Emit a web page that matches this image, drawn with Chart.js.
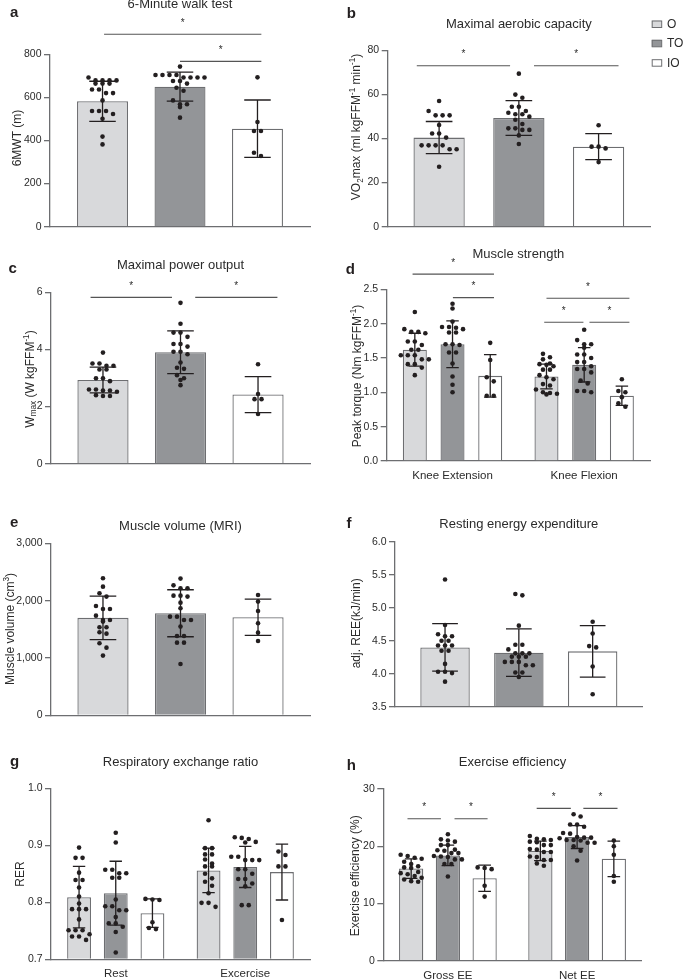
<!DOCTYPE html>
<html><head><meta charset="utf-8">
<script src="https://cdn.jsdelivr.net/npm/chart.js@4.4.0/dist/chart.umd.min.js"></script>
<style>
html,body{margin:0;padding:0;background:#fff;width:685px;height:979px;overflow:hidden;position:relative;font-family:"Liberation Sans",Arial,sans-serif;}
canvas{position:absolute;}
.lbl{position:absolute;font-weight:bold;font-size:15px;line-height:15px;color:#231f20;}
</style></head><body>
<script>
// ---------- data ----------
const groupLabels = ['O', 'TO', 'IO'];

// a: 6-minute walk test (m)
const walkMean = [582, 650, 455];
const walkSD = [93, 67, 133];
const walkO = [692, 679, 679, 679, 679, 664, 664, 664, 637, 637, 620, 620, 586, 537, 537, 537, 523, 501, 418, 382];
const walkTO = [743, 704, 704, 704, 704, 692, 692, 692, 692, 676, 676, 664, 645, 631, 586, 568, 568, 555, 506];
const walkIO = [693, 486, 444, 444, 343, 328];
const walkSig = [[0, 0.02, 2.05, 893], [0, 1.0, 2.05, 767]];

// b: VO2max (ml kgFFM-1 min-1)
const vo2Mean = [40.4, 49.3, 36.3];
const vo2SD = [7.3, 7.9, 5.9];
const vo2O = [57.0, 52.5, 50.5, 50.5, 50.5, 46.1, 42.3, 42.3, 40.4, 36.9, 36.9, 36.9, 36.9, 35.1, 35.1, 27.2];
const vo2TO = [69.4, 59.9, 58.5, 54.4, 54.4, 52.5, 51.7, 51.0, 51.0, 49.9, 48.5, 46.6, 44.6, 44.6, 43.9, 43.9, 41.4, 37.5];
const vo2IO = [46.0, 36.3, 36.3, 35.5, 29.3];
const vo2Sig = [[0, -0.28, 0.89, 73], [0, 1.19, 2.25, 73]];

// c: Wmax (W kgFFM-1)
const wmaxMean = [2.93, 3.90, 2.42];
const wmaxSD = [0.45, 0.75, 0.63];
const wmaxO = [3.89, 3.51, 3.51, 3.43, 3.43, 3.30, 3.30, 2.99, 2.99, 2.89, 2.60, 2.60, 2.56, 2.56, 2.52, 2.40, 2.37, 2.37];
const wmaxTO = [5.63, 4.90, 4.59, 4.59, 4.44, 4.19, 4.19, 4.10, 3.92, 3.92, 3.83, 3.54, 3.36, 3.32, 3.10, 2.99, 2.93, 2.75];
const wmaxIO = [3.48, 2.44, 2.26, 2.26, 1.74];
const wmaxSig = [[0, -0.16, 0.89, 5.82], [0, 1.19, 2.25, 5.82]];

// d: muscle strength, peak torque (Nm kgFFM-1)
const strengthCats = ['Knee Extension', 'Knee Flexion'];
const extMean = [1.62, 1.70, 1.24];
const extSD = [0.24, 0.34, 0.31];
const flexMean = [1.23, 1.40, 0.95];
const flexSD = [0.18, 0.25, 0.14];
const extO = [2.17, 1.92, 1.88, 1.88, 1.86, 1.74, 1.74, 1.69, 1.62, 1.62, 1.54, 1.54, 1.54, 1.48, 1.48, 1.41, 1.41, 1.36, 1.25];
const extTO = [2.29, 2.22, 2.03, 1.95, 1.95, 1.94, 1.92, 1.87, 1.87, 1.70, 1.70, 1.69, 1.58, 1.58, 1.42, 1.23, 1.11, 1.00];
const extIO = [1.72, 1.47, 1.22, 1.16, 0.95, 0.95];
const flexO = [1.56, 1.51, 1.48, 1.42, 1.41, 1.40, 1.38, 1.33, 1.33, 1.25, 1.22, 1.19, 1.12, 1.10, 1.04, 1.00, 0.99, 0.98, 0.97];
const flexTO = [1.91, 1.76, 1.70, 1.70, 1.65, 1.55, 1.55, 1.50, 1.44, 1.44, 1.38, 1.34, 1.34, 1.29, 1.17, 1.13, 1.02, 1.02, 1.00];
const flexIO = [1.19, 1.02, 1.00, 0.93, 0.84, 0.79];
const strengthSig = [[0, -0.06, 2.1, 2.72], [0, 1.01, 2.1, 2.38], [1, 0, 2.2, 2.37], [1, -0.06, 0.98, 2.02], [1, 1.14, 2.2, 2.02]];

// e: muscle volume (cm3)
const volMean = [1700, 1780, 1710];
const volSD = [380, 410, 315];
const volO = [2390, 2244, 2128, 2070, 1907, 1855, 1855, 1738, 1663, 1663, 1634, 1535, 1535, 1448, 1424, 1256, 1180, 1041];
const volTO = [2384, 2267, 2215, 2215, 2087, 2087, 2070, 1965, 1866, 1721, 1721, 1663, 1663, 1547, 1384, 1384, 1267, 1267, 895];
const volIO = [2099, 1983, 1820, 1605, 1442, 1297];

// f: resting energy expenditure (kJ/min)
const reeMean = [4.40, 4.32, 4.34];
const reeSD = [0.36, 0.36, 0.39];
const reeO = [5.43, 4.74, 4.60, 4.57, 4.57, 4.50, 4.50, 4.43, 4.43, 4.43, 4.35, 4.35, 4.15, 4.03, 4.03, 4.01, 3.88];
const reeTO = [5.21, 5.19, 4.73, 4.44, 4.44, 4.37, 4.31, 4.31, 4.31, 4.26, 4.26, 4.26, 4.18, 4.18, 4.18, 4.13, 4.13, 4.02, 4.02, 3.95];
const reeIO = [4.79, 4.61, 4.42, 4.40, 4.11, 3.69];

// g: respiratory exchange ratio
const rerCats = ['Rest', 'Excercise'];
const restMean = [0.809, 0.816, 0.781];
const restSD = [0.054, 0.056, 0.025];
const exMean = [0.856, 0.862, 0.853];
const exSD = [0.039, 0.036, 0.049];
const restO = [0.896, 0.878, 0.878, 0.852, 0.839, 0.839, 0.826, 0.810, 0.798, 0.788, 0.788, 0.788, 0.770, 0.751, 0.751, 0.751, 0.744, 0.740, 0.740, 0.734];
const restTO = [0.922, 0.905, 0.857, 0.857, 0.851, 0.851, 0.843, 0.843, 0.805, 0.793, 0.793, 0.786, 0.786, 0.774, 0.763, 0.763, 0.757, 0.748, 0.712];
const restIO = [0.806, 0.805, 0.804, 0.765, 0.755, 0.753];
const exO = [0.944, 0.895, 0.895, 0.884, 0.884, 0.875, 0.868, 0.863, 0.863, 0.850, 0.842, 0.836, 0.829, 0.816, 0.799, 0.799, 0.792];
const exTO = [0.914, 0.913, 0.911, 0.906, 0.905, 0.880, 0.880, 0.874, 0.874, 0.874, 0.858, 0.858, 0.850, 0.841, 0.841, 0.833, 0.828, 0.795, 0.795];
const exIO = [0.889, 0.883, 0.863, 0.863, 0.769];

// h: exercise efficiency (%)
const effCats = ['Gross EE', 'Net EE'];
const grossMean = [16.1, 18.4, 14.4];
const grossSD = [1.7, 1.8, 2.3];
const netMean = [19.2, 21.6, 17.8];
const netSD = [1.7, 2.0, 3.1];
const grossO = [18.5, 18.3, 18.0, 17.8, 17.3, 16.9, 16.5, 16.3, 16.2, 15.5, 15.3, 15.1, 14.8, 14.5, 14.2, 13.9, 13.8];
const grossTO = [22.1, 21.2, 21.0, 20.8, 20.2, 20.2, 19.4, 19.3, 19.2, 18.8, 18.8, 18.3, 18.2, 18.1, 17.7, 17.7, 16.9, 16.9, 14.7];
const grossIO = [16.3, 16.2, 16.0, 13.1, 11.2];
const netO = [21.8, 21.3, 21.2, 21.1, 20.8, 20.7, 20.2, 20.2, 19.5, 19.4, 19.0, 19.0, 18.2, 18.1, 17.6, 17.6, 17.0, 16.6];
const netTO = [25.6, 25.2, 23.8, 23.8, 23.4, 22.3, 22.2, 21.6, 21.5, 21.5, 21.4, 21.1, 21.1, 21.0, 20.6, 20.6, 20.0, 19.2, 17.5];
const netIO = [21.0, 20.0, 18.5, 14.8, 13.8];
const effSig = [[0, -0.1, 0.81, 24.8], [0, 1.18, 2.08, 24.8], [1, -0.1, 0.83, 26.6], [1, 1.17, 2.1, 26.6]];

// ---------- style ----------
const FAMILY = '"Liberation Sans", Arial, Helvetica, sans-serif';
const fills = ['#d8d9db', '#939598', '#ffffff'];
const edge = '#6d6e71';
const axisColor = '#6d6e71';
const ink = '#231f20';
const textColor = '#2b2b2b';
Chart.defaults.font.family = FAMILY;

// ---------- panels ----------
const panels = [
  {key: 'a', x: 0, y: -10, w: 340, h: 250, area: [50, 54.3, 310, 226.7], titleY: 4.5,
   title: '6-Minute walk test', cats: [''], means: [walkMean], sds: [walkSD], pts: [[walkO, walkTO, walkIO]],
   sig: walkSig, min: 0, max: 800, step: 200, fmt: v => String(v), cat: 0.894, bar: 0.658,
   ytitle: [['6MWT (m)', '']], yt: [16.7, 138]},
  {key: 'b', x: 340, y: -10, w: 345, h: 250, area: [387.7, 50.3, 650, 226.7], titleY: 24.7,
   title: 'Maximal aerobic capacity', cats: [''], means: [vo2Mean], sds: [vo2SD], pts: [[vo2O, vo2TO, vo2IO]],
   sig: vo2Sig, min: 0, max: 80, step: 20, fmt: v => String(v), cat: 0.912, bar: 0.643,
   ytitle: [['VO', ''], ['2', 'sub'], ['max (ml kgFFM', ''], ['-1', 'sup'], [' min', ''], ['-1', 'sup'], [')', '']],
   yt: [356, 127], legend: true},
  {key: 'c', x: 0, y: 238, w: 340, h: 247, area: [51, 292.3, 310, 463.7], titleY: 265.7,
   title: 'Maximal power output', cats: [''], means: [wmaxMean], sds: [wmaxSD], pts: [[wmaxO, wmaxTO, wmaxIO]],
   sig: wmaxSig, min: 0, max: 6, step: 2, fmt: v => String(v), cat: 0.898, bar: 0.66,
   ytitle: [['W', ''], ['max', 'sub'], [' (W kgFFM', ''], ['-1', 'sup'], [')', '']], yt: [29.5, 379]},
  {key: 'd', x: 340, y: 238, w: 345, h: 247, area: [386.7, 289.3, 650, 461], titleY: 254,
   title: 'Muscle strength', cats: strengthCats, means: [extMean, flexMean], sds: [extSD, flexSD],
   pts: [[extO, extTO, extIO], [flexO, flexTO, flexIO]], sig: strengthSig,
   min: 0, max: 2.5, step: 0.5, fmt: v => v.toFixed(1), cat: 0.859, bar: 0.637,
   ytitle: [['Peak torque (Nm kgFFM', ''], ['-1', 'sup'], [')', '']], yt: [356.7, 376], showX: true},
  {key: 'e', x: 0, y: 478, w: 340, h: 250, area: [51, 543.3, 310, 715.3], titleY: 526,
   title: 'Muscle volume (MRI)', cats: [''], means: [volMean], sds: [volSD], pts: [[volO, volTO, volIO]],
   sig: [], min: 0, max: 3000, step: 1000, fmt: v => v.toLocaleString('en-US'), cat: 0.898, bar: 0.66,
   ytitle: [['Muscle volume (cm', ''], ['3', 'sup'], [')', '']], yt: [10, 629]},
  {key: 'f', x: 340, y: 478, w: 345, h: 250, area: [395, 542, 642.7, 706.7], titleY: 524,
   title: 'Resting energy expenditure', cats: [''], means: [reeMean], sds: [reeSD], pts: [[reeO, reeTO, reeIO]],
   sig: [], min: 3.5, max: 6.0, step: 0.5, fmt: v => v.toFixed(1), cat: 0.894, bar: 0.67,
   ytitle: [['adj. REE(kJ/min)', '']], yt: [355.7, 623.3]},
  {key: 'g', x: 0, y: 718, w: 340, h: 261, area: [51, 788.3, 310, 959.3], titleY: 762,
   title: 'Respiratory exchange ratio', cats: rerCats, means: [restMean, exMean], sds: [restSD, exSD],
   pts: [[restO, restTO, restIO], [exO, exTO, exIO]], sig: [],
   min: 0.7, max: 1.0, step: 0.1, fmt: v => v.toFixed(1), cat: 0.85, bar: 0.65,
   ytitle: [['RER', '']], yt: [19.3, 874], showX: true},
  {key: 'h', x: 340, y: 718, w: 345, h: 261, area: [383.3, 789, 641.7, 960.7], titleY: 762.5,
   title: 'Exercise efficiency', cats: effCats, means: [grossMean, netMean], sds: [grossSD, netSD],
   pts: [[grossO, grossTO, grossIO], [netO, netTO, netIO]], sig: effSig,
   min: 0, max: 30, step: 10, fmt: v => String(v), cat: 0.853, bar: 0.66,
   ytitle: [['Exercise efficiency (%)', '']], yt: [355, 875.8], showX: true}
];

const letters = [['a', 10, 16.7], ['b', 346.7, 17.3], ['c', 8.5, 272.3], ['d', 345.7, 273.3],
                 ['e', 10, 526.7], ['f', 346.5, 527.7], ['g', 10, 766], ['h', 346.7, 770]];

// ---------- helpers ----------
function swarm(values, cx, yScale, step, rowGap) {
  const sorted = values.slice().sort((a, b) => b - a);
  const rows = [];
  let cur = null;
  for (const v of sorted) {
    const py = yScale.getPixelForValue(v);
    if (!cur || py - cur.start >= rowGap) { cur = {start: py, items: []}; rows.push(cur); }
    cur.items.push(py);
  }
  const out = [];
  rows.forEach(r => {
    const n = r.items.length;
    r.items.forEach((py, k) => out.push([cx + (k - (n - 1) / 2) * step, py]));
  });
  return out;
}

function drawRich(ctx, segs, cx, cy, size) {
  ctx.save();
  ctx.translate(cx, cy);
  ctx.rotate(-Math.PI / 2);
  const small = size * 0.68;
  const widths = segs.map(([t, k]) => { ctx.font = (k ? small : size) + 'px ' + FAMILY; return ctx.measureText(t).width; });
  const total = widths.reduce((a, b) => a + b, 0);
  let x = -total / 2;
  ctx.fillStyle = textColor;
  ctx.textBaseline = 'alphabetic';
  ctx.textAlign = 'left';
  const base = size * 0.35;
  segs.forEach(([t, k], i) => {
    ctx.font = (k ? small : size) + 'px ' + FAMILY;
    const off = k === 'sub' ? size * 0.22 : (k === 'sup' ? -size * 0.42 : 0);
    ctx.fillText(t, x, base + off);
    x += widths[i];
  });
  ctx.restore();
}

function makeOverlay(p) {
  return {
    id: 'overlay_' + p.key,
    afterDatasetsDraw(chart) {
      const ctx = chart.ctx, ys = chart.scales.y;
      ctx.save();
      // error bars (mean ± SD)
      for (let i = 0; i < 3; i++) {
        const meta = chart.getDatasetMeta(i);
        meta.data.forEach((el, c) => {
          const m = p.means[c][i], sd = p.sds[c][i];
          const x = el.x, cap = el.width * 0.26;
          const yTop = ys.getPixelForValue(m + sd), yBot = ys.getPixelForValue(m - sd);
          ctx.strokeStyle = ink; ctx.lineWidth = 1.3;
          ctx.beginPath();
          ctx.moveTo(x, yTop); ctx.lineTo(x, yBot);
          ctx.moveTo(x - cap, yTop); ctx.lineTo(x + cap, yTop);
          ctx.moveTo(x - cap, yBot); ctx.lineTo(x + cap, yBot);
          ctx.stroke();
        });
      }
      // individual points
      ctx.fillStyle = ink;
      for (let i = 0; i < 3; i++) {
        const meta = chart.getDatasetMeta(i);
        meta.data.forEach((el, c) => {
          swarm(p.pts[c][i], el.x, ys, 7, 4.6).forEach(([px, py]) => {
            ctx.beginPath(); ctx.arc(px, py, 2.3, 0, Math.PI * 2); ctx.fill();
          });
        });
      }
      // significance brackets
      p.sig.forEach(([c, f, t, lvl]) => {
        const xs = [0, 1, 2].map(i => chart.getDatasetMeta(i).data[c].x);
        const sp = xs[1] - xs[0];
        const x1 = xs[0] + f * sp, x2 = xs[0] + t * sp;
        const py = ys.getPixelForValue(lvl);
        ctx.strokeStyle = '#555555'; ctx.lineWidth = 1.2;
        ctx.beginPath(); ctx.moveTo(x1, py); ctx.lineTo(x2, py); ctx.stroke();
        ctx.fillStyle = textColor;
        ctx.font = '10px ' + FAMILY;
        ctx.textAlign = 'center'; ctx.textBaseline = 'alphabetic';
        ctx.fillText('*', (x1 + x2) / 2, py - 8.5);
      });
      ctx.restore();
    },
    afterDraw(chart) {
      const ctx = chart.ctx;
      drawRich(ctx, p.ytitle, p.yt[0] - p.x, p.yt[1] - p.y, 12);
      if (p.legend) {
        ctx.save();
        const rows = [24, 43.3, 62.7];
        chart.data.datasets.forEach((ds, i) => {
          const cy = rows[i] - p.y;
          ctx.fillStyle = ds.backgroundColor;
          ctx.fillRect(651.7 - p.x, cy - 3.5, 10, 7);
          ctx.strokeStyle = edge; ctx.lineWidth = 1;
          ctx.strokeRect(651.7 - p.x + 0.5, cy - 3.5 + 0.5, 9.5, 6.5);
          ctx.fillStyle = textColor;
          ctx.font = '12px ' + FAMILY;
          ctx.textAlign = 'left'; ctx.textBaseline = 'middle';
          ctx.fillText(ds.label, 667 - p.x, cy + 0.5);
        });
        ctx.restore();
      }
    }
  };
}

function buildPanel(p) {
  const cv = document.createElement('canvas');
  cv.width = p.w; cv.height = p.h;
  cv.style.left = p.x + 'px'; cv.style.top = p.y + 'px';
  cv.style.width = p.w + 'px'; cv.style.height = p.h + 'px';
  document.body.appendChild(cv);
  const [L, T, R, B] = p.area;
  const xAxisH = p.h - (B - p.y);
  const datasets = groupLabels.map((g, i) => ({
    label: g,
    data: p.means.map(m => m[i]),
    backgroundColor: fills[i],
    borderColor: edge,
    borderWidth: 1.3,
    categoryPercentage: p.cat,
    barPercentage: p.bar,
    base: p.min
  }));
  new Chart(cv, {
    type: 'bar',
    data: {labels: p.cats, datasets},
    options: {
      responsive: false, animation: false, devicePixelRatio: 1,
      events: [],
      layout: {padding: {left: 0, right: p.w - (R - p.x), top: 0, bottom: 0}},
      plugins: {
        legend: {display: false},
        tooltip: {enabled: false},
        title: {
          display: true, text: p.title, fullSize: false, color: textColor,
          font: {family: FAMILY, size: 13, weight: 'normal'},
          padding: {top: p.titleY - 7.8 - p.y, bottom: T - p.titleY - 7.8}
        }
      },
      scales: {
        x: {
          type: 'category', offset: true,
          grid: {display: false},
          border: {display: true, color: axisColor, width: 1.3},
          ticks: {display: !!p.showX, color: textColor, font: {family: FAMILY, size: 11.5}, padding: 0, maxRotation: 0, autoSkip: false},
          afterFit: s => { s.height = xAxisH; }
        },
        y: {
          min: p.min, max: p.max,
          border: {display: true, color: axisColor, width: 1.3},
          grid: {drawOnChartArea: false, drawTicks: true, tickLength: 6, color: axisColor, lineWidth: 1.3},
          ticks: {stepSize: p.step, color: textColor, font: {family: FAMILY, size: 10.5}, padding: 2.5, callback: v => p.fmt(v)},
          afterFit: s => { s.width = L - p.x; }
        }
      }
    },
    plugins: [makeOverlay(p)]
  });
}

panels.forEach(buildPanel);

letters.forEach(([t, x, baseline]) => {
  const d = document.createElement('div');
  d.className = 'lbl';
  d.textContent = t;
  d.style.left = x + 'px';
  d.style.top = (baseline - 12.7) + 'px';
  document.body.appendChild(d);
});
</script>
</body></html>
